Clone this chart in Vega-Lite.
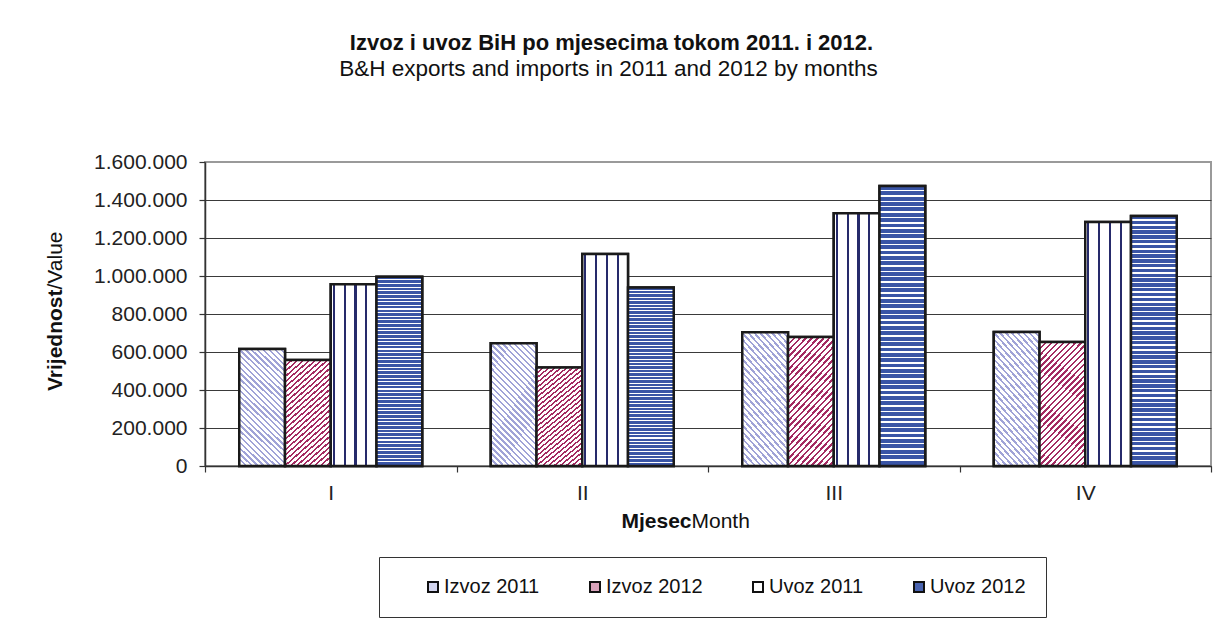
{
  "$schema": "https://vega.github.io/schema/vega-lite/v6.json",
  "width": 1006,
  "height": 304,
  "autosize": {"type": "none"},
  "padding": {"left": 205, "top": 162, "right": 21, "bottom": 169},
  "background": "white",
  "config": {
    "font": "Liberation Sans",
    "locale": {"number": {"decimal": ",", "thousands": ".", "grouping": [3], "currency": ["", ""]}},
    "view": {"stroke": "#9a9a9a", "strokeWidth": 2}
  },
  "data": {
    "values": [
      {"month": "I", "series": "Izvoz 2011", "value": 616000},
      {"month": "I", "series": "Izvoz 2012", "value": 558000},
      {"month": "I", "series": "Uvoz 2011", "value": 956000},
      {"month": "I", "series": "Uvoz 2012", "value": 996000},
      {"month": "II", "series": "Izvoz 2011", "value": 646000},
      {"month": "II", "series": "Izvoz 2012", "value": 519000},
      {"month": "II", "series": "Uvoz 2011", "value": 1116000},
      {"month": "II", "series": "Uvoz 2012", "value": 940000},
      {"month": "III", "series": "Izvoz 2011", "value": 704000},
      {"month": "III", "series": "Izvoz 2012", "value": 679000},
      {"month": "III", "series": "Uvoz 2011", "value": 1330000},
      {"month": "III", "series": "Uvoz 2012", "value": 1474000},
      {"month": "IV", "series": "Izvoz 2011", "value": 705000},
      {"month": "IV", "series": "Izvoz 2012", "value": 653000},
      {"month": "IV", "series": "Uvoz 2011", "value": 1284000},
      {"month": "IV", "series": "Uvoz 2012", "value": 1316000}
    ]
  },
  "layer": [
    {
      "mark": {"type": "bar", "stroke": "#1a1a1a", "strokeWidth": 2.5},
      "encoding": {
        "x": {
          "field": "month", "type": "nominal",
          "scale": {"paddingInner": 0, "paddingOuter": 0},
          "axis": {
            "orient": "bottom", "tickBand": "extent", "labelAngle": 0,
            "labelFontSize": 21, "labelColor": "#222", "labelPadding": 10,
            "domainColor": "#333", "domainWidth": 1.5, "tickColor": "#333", "tickSize": 6, "tickWidth": 1.2,
            "grid": false,
            "title": "Mjesec", "titleFontSize": 21, "titleFontWeight": "bold", "titleColor": "#111",
            "titleX": 486, "titleY": 55, "titleAlign": "right", "titleBaseline": "middle"
          }
        },
        "xOffset": {
          "field": "series", "type": "nominal",
          "scale": {"paddingInner": 0, "paddingOuter": 0.749}
        },
        "y": {
          "field": "value", "type": "quantitative",
          "scale": {"domain": [0, 1600000], "nice": false},
          "axis": {
            "orient": "left", "values": [0, 200000, 400000, 600000, 800000, 1000000, 1200000, 1400000, 1600000],
            "format": ",d", "labelFontSize": 21, "labelColor": "#222", "labelPadding": 12,
            "domainColor": "#333", "domainWidth": 1.5, "tickColor": "#333", "tickSize": 6, "tickWidth": 1.2,
            "grid": true, "gridWidth": 1.2,
            "gridColor": {"condition": {"test": "datum.value == 1600000", "value": "#9a9a9a"}, "value": "#3a3a3a"},
            "title": "Vrijednost", "titleFontSize": 21, "titleFontWeight": "bold", "titleColor": "#111",
            "titleAngle": 270, "titleX": -150, "titleY": 127, "titleAlign": "right", "titleBaseline": "middle"
          }
        },
        "fill": {
          "field": "series", "type": "nominal",
          "scale": {
            "domain": ["Izvoz 2011", "Izvoz 2012", "Uvoz 2011", "Uvoz 2012"],
            "range": ["#d3d5ef", "#d9a3bb", "#ffffff", "#4a64b0"]
          },
          "legend": {
            "orient": "none", "legendX": 174, "legendY": 395, "direction": "horizontal", "columns": 4,
            "title": " ", "titleOrient": "left", "titleFontSize": 2, "titlePadding": 24,
            "padding": 20, "strokeColor": "#333", "fillColor": "#fff",
            "symbolType": "square", "symbolSize": 100, "symbolStrokeColor": "#111", "symbolStrokeWidth": 2,
            "labelFontSize": 20, "labelColor": "#111", "labelOffset": 1, "columnPadding": 45, "labelFont": "Liberation Sans"
          }
        }
      }
    },
    {
      "transform": [{"filter": "datum.series == 'Izvoz 2011'"}],
      "mark": {"type": "bar", "stroke": "#1a1a1a", "strokeWidth": 2.5,
        "fill": {"gradient": "linear", "x1": 0, "y1": 1, "x2": 0.46, "y2": -0.206, "stops": [
          {"offset": 0, "color": "#a0a3d7"}, {"offset": 0.0143, "color": "#a0a3d7"}, {"offset": 0.0143, "color": "#fff"}, {"offset": 0.0357, "color": "#fff"},
          {"offset": 0.0357, "color": "#a0a3d7"}, {"offset": 0.05, "color": "#a0a3d7"}, {"offset": 0.05, "color": "#fff"}, {"offset": 0.0714, "color": "#fff"},
          {"offset": 0.0714, "color": "#a0a3d7"}, {"offset": 0.0857, "color": "#a0a3d7"}, {"offset": 0.0857, "color": "#fff"}, {"offset": 0.1071, "color": "#fff"},
          {"offset": 0.1071, "color": "#a0a3d7"}, {"offset": 0.1214, "color": "#a0a3d7"}, {"offset": 0.1214, "color": "#fff"}, {"offset": 0.1429, "color": "#fff"},
          {"offset": 0.1429, "color": "#a0a3d7"}, {"offset": 0.1571, "color": "#a0a3d7"}, {"offset": 0.1571, "color": "#fff"}, {"offset": 0.1786, "color": "#fff"},
          {"offset": 0.1786, "color": "#a0a3d7"}, {"offset": 0.1929, "color": "#a0a3d7"}, {"offset": 0.1929, "color": "#fff"}, {"offset": 0.2143, "color": "#fff"},
          {"offset": 0.2143, "color": "#a0a3d7"}, {"offset": 0.2286, "color": "#a0a3d7"}, {"offset": 0.2286, "color": "#fff"}, {"offset": 0.25, "color": "#fff"},
          {"offset": 0.25, "color": "#a0a3d7"}, {"offset": 0.2643, "color": "#a0a3d7"}, {"offset": 0.2643, "color": "#fff"}, {"offset": 0.2857, "color": "#fff"},
          {"offset": 0.2857, "color": "#a0a3d7"}, {"offset": 0.3, "color": "#a0a3d7"}, {"offset": 0.3, "color": "#fff"}, {"offset": 0.3214, "color": "#fff"},
          {"offset": 0.3214, "color": "#a0a3d7"}, {"offset": 0.3357, "color": "#a0a3d7"}, {"offset": 0.3357, "color": "#fff"}, {"offset": 0.3571, "color": "#fff"},
          {"offset": 0.3571, "color": "#a0a3d7"}, {"offset": 0.3714, "color": "#a0a3d7"}, {"offset": 0.3714, "color": "#fff"}, {"offset": 0.3929, "color": "#fff"},
          {"offset": 0.3929, "color": "#a0a3d7"}, {"offset": 0.4071, "color": "#a0a3d7"}, {"offset": 0.4071, "color": "#fff"}, {"offset": 0.4286, "color": "#fff"},
          {"offset": 0.4286, "color": "#a0a3d7"}, {"offset": 0.4429, "color": "#a0a3d7"}, {"offset": 0.4429, "color": "#fff"}, {"offset": 0.4643, "color": "#fff"},
          {"offset": 0.4643, "color": "#a0a3d7"}, {"offset": 0.4786, "color": "#a0a3d7"}, {"offset": 0.4786, "color": "#fff"}, {"offset": 0.5, "color": "#fff"},
          {"offset": 0.5, "color": "#a0a3d7"}, {"offset": 0.5143, "color": "#a0a3d7"}, {"offset": 0.5143, "color": "#fff"}, {"offset": 0.5357, "color": "#fff"},
          {"offset": 0.5357, "color": "#a0a3d7"}, {"offset": 0.55, "color": "#a0a3d7"}, {"offset": 0.55, "color": "#fff"}, {"offset": 0.5714, "color": "#fff"},
          {"offset": 0.5714, "color": "#a0a3d7"}, {"offset": 0.5857, "color": "#a0a3d7"}, {"offset": 0.5857, "color": "#fff"}, {"offset": 0.6071, "color": "#fff"},
          {"offset": 0.6071, "color": "#a0a3d7"}, {"offset": 0.6214, "color": "#a0a3d7"}, {"offset": 0.6214, "color": "#fff"}, {"offset": 0.6429, "color": "#fff"},
          {"offset": 0.6429, "color": "#a0a3d7"}, {"offset": 0.6571, "color": "#a0a3d7"}, {"offset": 0.6571, "color": "#fff"}, {"offset": 0.6786, "color": "#fff"},
          {"offset": 0.6786, "color": "#a0a3d7"}, {"offset": 0.6929, "color": "#a0a3d7"}, {"offset": 0.6929, "color": "#fff"}, {"offset": 0.7143, "color": "#fff"},
          {"offset": 0.7143, "color": "#a0a3d7"}, {"offset": 0.7286, "color": "#a0a3d7"}, {"offset": 0.7286, "color": "#fff"}, {"offset": 0.75, "color": "#fff"},
          {"offset": 0.75, "color": "#a0a3d7"}, {"offset": 0.7643, "color": "#a0a3d7"}, {"offset": 0.7643, "color": "#fff"}, {"offset": 0.7857, "color": "#fff"},
          {"offset": 0.7857, "color": "#a0a3d7"}, {"offset": 0.8, "color": "#a0a3d7"}, {"offset": 0.8, "color": "#fff"}, {"offset": 0.8214, "color": "#fff"},
          {"offset": 0.8214, "color": "#a0a3d7"}, {"offset": 0.8357, "color": "#a0a3d7"}, {"offset": 0.8357, "color": "#fff"}, {"offset": 0.8571, "color": "#fff"},
          {"offset": 0.8571, "color": "#a0a3d7"}, {"offset": 0.8714, "color": "#a0a3d7"}, {"offset": 0.8714, "color": "#fff"}, {"offset": 0.8929, "color": "#fff"},
          {"offset": 0.8929, "color": "#a0a3d7"}, {"offset": 0.9071, "color": "#a0a3d7"}, {"offset": 0.9071, "color": "#fff"}, {"offset": 0.9286, "color": "#fff"},
          {"offset": 0.9286, "color": "#a0a3d7"}, {"offset": 0.9429, "color": "#a0a3d7"}, {"offset": 0.9429, "color": "#fff"}, {"offset": 0.9643, "color": "#fff"},
          {"offset": 0.9643, "color": "#a0a3d7"}, {"offset": 0.9786, "color": "#a0a3d7"}, {"offset": 0.9786, "color": "#fff"}, {"offset": 1, "color": "#fff"}
        ]}},
      "encoding": {
        "x": {"field": "month", "type": "nominal", "axis": null},
        "xOffset": {"field": "series", "type": "nominal"},
        "y": {"field": "value", "type": "quantitative", "axis": null}
      }
    },
    {
      "transform": [{"filter": "datum.series == 'Izvoz 2012'"}],
      "mark": {"type": "bar", "stroke": "#1a1a1a", "strokeWidth": 2.5,
        "fill": {"gradient": "linear", "x1": 0, "y1": 0, "x2": 0.46, "y2": 1.206, "stops": [
          {"offset": 0, "color": "#a42b62"}, {"offset": 0.0143, "color": "#a42b62"}, {"offset": 0.0143, "color": "#fff"}, {"offset": 0.0357, "color": "#fff"},
          {"offset": 0.0357, "color": "#a42b62"}, {"offset": 0.05, "color": "#a42b62"}, {"offset": 0.05, "color": "#fff"}, {"offset": 0.0714, "color": "#fff"},
          {"offset": 0.0714, "color": "#a42b62"}, {"offset": 0.0857, "color": "#a42b62"}, {"offset": 0.0857, "color": "#fff"}, {"offset": 0.1071, "color": "#fff"},
          {"offset": 0.1071, "color": "#a42b62"}, {"offset": 0.1214, "color": "#a42b62"}, {"offset": 0.1214, "color": "#fff"}, {"offset": 0.1429, "color": "#fff"},
          {"offset": 0.1429, "color": "#a42b62"}, {"offset": 0.1571, "color": "#a42b62"}, {"offset": 0.1571, "color": "#fff"}, {"offset": 0.1786, "color": "#fff"},
          {"offset": 0.1786, "color": "#a42b62"}, {"offset": 0.1929, "color": "#a42b62"}, {"offset": 0.1929, "color": "#fff"}, {"offset": 0.2143, "color": "#fff"},
          {"offset": 0.2143, "color": "#a42b62"}, {"offset": 0.2286, "color": "#a42b62"}, {"offset": 0.2286, "color": "#fff"}, {"offset": 0.25, "color": "#fff"},
          {"offset": 0.25, "color": "#a42b62"}, {"offset": 0.2643, "color": "#a42b62"}, {"offset": 0.2643, "color": "#fff"}, {"offset": 0.2857, "color": "#fff"},
          {"offset": 0.2857, "color": "#a42b62"}, {"offset": 0.3, "color": "#a42b62"}, {"offset": 0.3, "color": "#fff"}, {"offset": 0.3214, "color": "#fff"},
          {"offset": 0.3214, "color": "#a42b62"}, {"offset": 0.3357, "color": "#a42b62"}, {"offset": 0.3357, "color": "#fff"}, {"offset": 0.3571, "color": "#fff"},
          {"offset": 0.3571, "color": "#a42b62"}, {"offset": 0.3714, "color": "#a42b62"}, {"offset": 0.3714, "color": "#fff"}, {"offset": 0.3929, "color": "#fff"},
          {"offset": 0.3929, "color": "#a42b62"}, {"offset": 0.4071, "color": "#a42b62"}, {"offset": 0.4071, "color": "#fff"}, {"offset": 0.4286, "color": "#fff"},
          {"offset": 0.4286, "color": "#a42b62"}, {"offset": 0.4429, "color": "#a42b62"}, {"offset": 0.4429, "color": "#fff"}, {"offset": 0.4643, "color": "#fff"},
          {"offset": 0.4643, "color": "#a42b62"}, {"offset": 0.4786, "color": "#a42b62"}, {"offset": 0.4786, "color": "#fff"}, {"offset": 0.5, "color": "#fff"},
          {"offset": 0.5, "color": "#a42b62"}, {"offset": 0.5143, "color": "#a42b62"}, {"offset": 0.5143, "color": "#fff"}, {"offset": 0.5357, "color": "#fff"},
          {"offset": 0.5357, "color": "#a42b62"}, {"offset": 0.55, "color": "#a42b62"}, {"offset": 0.55, "color": "#fff"}, {"offset": 0.5714, "color": "#fff"},
          {"offset": 0.5714, "color": "#a42b62"}, {"offset": 0.5857, "color": "#a42b62"}, {"offset": 0.5857, "color": "#fff"}, {"offset": 0.6071, "color": "#fff"},
          {"offset": 0.6071, "color": "#a42b62"}, {"offset": 0.6214, "color": "#a42b62"}, {"offset": 0.6214, "color": "#fff"}, {"offset": 0.6429, "color": "#fff"},
          {"offset": 0.6429, "color": "#a42b62"}, {"offset": 0.6571, "color": "#a42b62"}, {"offset": 0.6571, "color": "#fff"}, {"offset": 0.6786, "color": "#fff"},
          {"offset": 0.6786, "color": "#a42b62"}, {"offset": 0.6929, "color": "#a42b62"}, {"offset": 0.6929, "color": "#fff"}, {"offset": 0.7143, "color": "#fff"},
          {"offset": 0.7143, "color": "#a42b62"}, {"offset": 0.7286, "color": "#a42b62"}, {"offset": 0.7286, "color": "#fff"}, {"offset": 0.75, "color": "#fff"},
          {"offset": 0.75, "color": "#a42b62"}, {"offset": 0.7643, "color": "#a42b62"}, {"offset": 0.7643, "color": "#fff"}, {"offset": 0.7857, "color": "#fff"},
          {"offset": 0.7857, "color": "#a42b62"}, {"offset": 0.8, "color": "#a42b62"}, {"offset": 0.8, "color": "#fff"}, {"offset": 0.8214, "color": "#fff"},
          {"offset": 0.8214, "color": "#a42b62"}, {"offset": 0.8357, "color": "#a42b62"}, {"offset": 0.8357, "color": "#fff"}, {"offset": 0.8571, "color": "#fff"},
          {"offset": 0.8571, "color": "#a42b62"}, {"offset": 0.8714, "color": "#a42b62"}, {"offset": 0.8714, "color": "#fff"}, {"offset": 0.8929, "color": "#fff"},
          {"offset": 0.8929, "color": "#a42b62"}, {"offset": 0.9071, "color": "#a42b62"}, {"offset": 0.9071, "color": "#fff"}, {"offset": 0.9286, "color": "#fff"},
          {"offset": 0.9286, "color": "#a42b62"}, {"offset": 0.9429, "color": "#a42b62"}, {"offset": 0.9429, "color": "#fff"}, {"offset": 0.9643, "color": "#fff"},
          {"offset": 0.9643, "color": "#a42b62"}, {"offset": 0.9786, "color": "#a42b62"}, {"offset": 0.9786, "color": "#fff"}, {"offset": 1, "color": "#fff"}
        ]}},
      "encoding": {
        "x": {"field": "month", "type": "nominal", "axis": null},
        "xOffset": {"field": "series", "type": "nominal"},
        "y": {"field": "value", "type": "quantitative", "axis": null}
      }
    },
    {
      "transform": [{"filter": "datum.series == 'Uvoz 2011'"}],
      "mark": {"type": "bar", "stroke": "#1a1a1a", "strokeWidth": 2.5,
        "fill": {"gradient": "linear", "x1": 0, "y1": 0, "x2": 1, "y2": 0, "stops": [
          {"offset": 0, "color": "#fff"}, {"offset": 0.04, "color": "#fff"}, {"offset": 0.04, "color": "#262a6b"}, {"offset": 0.09, "color": "#262a6b"},
          {"offset": 0.09, "color": "#fff"}, {"offset": 0.28, "color": "#fff"}, {"offset": 0.28, "color": "#262a6b"}, {"offset": 0.33, "color": "#262a6b"},
          {"offset": 0.33, "color": "#fff"}, {"offset": 0.515, "color": "#fff"}, {"offset": 0.515, "color": "#262a6b"}, {"offset": 0.565, "color": "#262a6b"},
          {"offset": 0.565, "color": "#fff"}, {"offset": 0.75, "color": "#fff"}, {"offset": 0.75, "color": "#262a6b"}, {"offset": 0.8, "color": "#262a6b"},
          {"offset": 0.8, "color": "#fff"}, {"offset": 1, "color": "#fff"}
        ]}},
      "encoding": {
        "x": {"field": "month", "type": "nominal", "axis": null},
        "xOffset": {"field": "series", "type": "nominal"},
        "y": {"field": "value", "type": "quantitative", "axis": null}
      }
    },
    {
      "transform": [{"filter": "datum.series == 'Uvoz 2012'"}],
      "mark": {"type": "bar", "stroke": "#1a1a1a", "strokeWidth": 2.5,
        "fill": {"gradient": "linear", "x1": 0, "y1": 0, "x2": 0, "y2": 1, "stops": [
          {"offset": 0, "color": "#3a55a6"}, {"offset": 0.0135, "color": "#3a55a6"}, {"offset": 0.0135, "color": "#fff"}, {"offset": 0.0192, "color": "#fff"},
          {"offset": 0.0192, "color": "#3a55a6"}, {"offset": 0.0327, "color": "#3a55a6"}, {"offset": 0.0327, "color": "#fff"}, {"offset": 0.0385, "color": "#fff"},
          {"offset": 0.0385, "color": "#3a55a6"}, {"offset": 0.052, "color": "#3a55a6"}, {"offset": 0.052, "color": "#fff"}, {"offset": 0.0577, "color": "#fff"},
          {"offset": 0.0577, "color": "#3a55a6"}, {"offset": 0.0712, "color": "#3a55a6"}, {"offset": 0.0712, "color": "#fff"}, {"offset": 0.0769, "color": "#fff"},
          {"offset": 0.0769, "color": "#3a55a6"}, {"offset": 0.0904, "color": "#3a55a6"}, {"offset": 0.0904, "color": "#fff"}, {"offset": 0.0962, "color": "#fff"},
          {"offset": 0.0962, "color": "#3a55a6"}, {"offset": 0.1097, "color": "#3a55a6"}, {"offset": 0.1097, "color": "#fff"}, {"offset": 0.1154, "color": "#fff"},
          {"offset": 0.1154, "color": "#3a55a6"}, {"offset": 0.1289, "color": "#3a55a6"}, {"offset": 0.1289, "color": "#fff"}, {"offset": 0.1346, "color": "#fff"},
          {"offset": 0.1346, "color": "#3a55a6"}, {"offset": 0.1481, "color": "#3a55a6"}, {"offset": 0.1481, "color": "#fff"}, {"offset": 0.1538, "color": "#fff"},
          {"offset": 0.1538, "color": "#3a55a6"}, {"offset": 0.1673, "color": "#3a55a6"}, {"offset": 0.1673, "color": "#fff"}, {"offset": 0.1731, "color": "#fff"},
          {"offset": 0.1731, "color": "#3a55a6"}, {"offset": 0.1866, "color": "#3a55a6"}, {"offset": 0.1866, "color": "#fff"}, {"offset": 0.1923, "color": "#fff"},
          {"offset": 0.1923, "color": "#3a55a6"}, {"offset": 0.2058, "color": "#3a55a6"}, {"offset": 0.2058, "color": "#fff"}, {"offset": 0.2115, "color": "#fff"},
          {"offset": 0.2115, "color": "#3a55a6"}, {"offset": 0.225, "color": "#3a55a6"}, {"offset": 0.225, "color": "#fff"}, {"offset": 0.2308, "color": "#fff"},
          {"offset": 0.2308, "color": "#3a55a6"}, {"offset": 0.2443, "color": "#3a55a6"}, {"offset": 0.2443, "color": "#fff"}, {"offset": 0.25, "color": "#fff"},
          {"offset": 0.25, "color": "#3a55a6"}, {"offset": 0.2635, "color": "#3a55a6"}, {"offset": 0.2635, "color": "#fff"}, {"offset": 0.2692, "color": "#fff"},
          {"offset": 0.2692, "color": "#3a55a6"}, {"offset": 0.2827, "color": "#3a55a6"}, {"offset": 0.2827, "color": "#fff"}, {"offset": 0.2885, "color": "#fff"},
          {"offset": 0.2885, "color": "#3a55a6"}, {"offset": 0.302, "color": "#3a55a6"}, {"offset": 0.302, "color": "#fff"}, {"offset": 0.3077, "color": "#fff"},
          {"offset": 0.3077, "color": "#3a55a6"}, {"offset": 0.3212, "color": "#3a55a6"}, {"offset": 0.3212, "color": "#fff"}, {"offset": 0.3269, "color": "#fff"},
          {"offset": 0.3269, "color": "#3a55a6"}, {"offset": 0.3404, "color": "#3a55a6"}, {"offset": 0.3404, "color": "#fff"}, {"offset": 0.3462, "color": "#fff"},
          {"offset": 0.3462, "color": "#3a55a6"}, {"offset": 0.3597, "color": "#3a55a6"}, {"offset": 0.3597, "color": "#fff"}, {"offset": 0.3654, "color": "#fff"},
          {"offset": 0.3654, "color": "#3a55a6"}, {"offset": 0.3789, "color": "#3a55a6"}, {"offset": 0.3789, "color": "#fff"}, {"offset": 0.3846, "color": "#fff"},
          {"offset": 0.3846, "color": "#3a55a6"}, {"offset": 0.3981, "color": "#3a55a6"}, {"offset": 0.3981, "color": "#fff"}, {"offset": 0.4038, "color": "#fff"},
          {"offset": 0.4038, "color": "#3a55a6"}, {"offset": 0.4173, "color": "#3a55a6"}, {"offset": 0.4173, "color": "#fff"}, {"offset": 0.4231, "color": "#fff"},
          {"offset": 0.4231, "color": "#3a55a6"}, {"offset": 0.4366, "color": "#3a55a6"}, {"offset": 0.4366, "color": "#fff"}, {"offset": 0.4423, "color": "#fff"},
          {"offset": 0.4423, "color": "#3a55a6"}, {"offset": 0.4558, "color": "#3a55a6"}, {"offset": 0.4558, "color": "#fff"}, {"offset": 0.4615, "color": "#fff"},
          {"offset": 0.4615, "color": "#3a55a6"}, {"offset": 0.475, "color": "#3a55a6"}, {"offset": 0.475, "color": "#fff"}, {"offset": 0.4808, "color": "#fff"},
          {"offset": 0.4808, "color": "#3a55a6"}, {"offset": 0.4943, "color": "#3a55a6"}, {"offset": 0.4943, "color": "#fff"}, {"offset": 0.5, "color": "#fff"},
          {"offset": 0.5, "color": "#3a55a6"}, {"offset": 0.5135, "color": "#3a55a6"}, {"offset": 0.5135, "color": "#fff"}, {"offset": 0.5192, "color": "#fff"},
          {"offset": 0.5192, "color": "#3a55a6"}, {"offset": 0.5327, "color": "#3a55a6"}, {"offset": 0.5327, "color": "#fff"}, {"offset": 0.5385, "color": "#fff"},
          {"offset": 0.5385, "color": "#3a55a6"}, {"offset": 0.552, "color": "#3a55a6"}, {"offset": 0.552, "color": "#fff"}, {"offset": 0.5577, "color": "#fff"},
          {"offset": 0.5577, "color": "#3a55a6"}, {"offset": 0.5712, "color": "#3a55a6"}, {"offset": 0.5712, "color": "#fff"}, {"offset": 0.5769, "color": "#fff"},
          {"offset": 0.5769, "color": "#3a55a6"}, {"offset": 0.5904, "color": "#3a55a6"}, {"offset": 0.5904, "color": "#fff"}, {"offset": 0.5962, "color": "#fff"},
          {"offset": 0.5962, "color": "#3a55a6"}, {"offset": 0.6097, "color": "#3a55a6"}, {"offset": 0.6097, "color": "#fff"}, {"offset": 0.6154, "color": "#fff"},
          {"offset": 0.6154, "color": "#3a55a6"}, {"offset": 0.6289, "color": "#3a55a6"}, {"offset": 0.6289, "color": "#fff"}, {"offset": 0.6346, "color": "#fff"},
          {"offset": 0.6346, "color": "#3a55a6"}, {"offset": 0.6481, "color": "#3a55a6"}, {"offset": 0.6481, "color": "#fff"}, {"offset": 0.6538, "color": "#fff"},
          {"offset": 0.6538, "color": "#3a55a6"}, {"offset": 0.6673, "color": "#3a55a6"}, {"offset": 0.6673, "color": "#fff"}, {"offset": 0.6731, "color": "#fff"},
          {"offset": 0.6731, "color": "#3a55a6"}, {"offset": 0.6866, "color": "#3a55a6"}, {"offset": 0.6866, "color": "#fff"}, {"offset": 0.6923, "color": "#fff"},
          {"offset": 0.6923, "color": "#3a55a6"}, {"offset": 0.7058, "color": "#3a55a6"}, {"offset": 0.7058, "color": "#fff"}, {"offset": 0.7115, "color": "#fff"},
          {"offset": 0.7115, "color": "#3a55a6"}, {"offset": 0.725, "color": "#3a55a6"}, {"offset": 0.725, "color": "#fff"}, {"offset": 0.7308, "color": "#fff"},
          {"offset": 0.7308, "color": "#3a55a6"}, {"offset": 0.7443, "color": "#3a55a6"}, {"offset": 0.7443, "color": "#fff"}, {"offset": 0.75, "color": "#fff"},
          {"offset": 0.75, "color": "#3a55a6"}, {"offset": 0.7635, "color": "#3a55a6"}, {"offset": 0.7635, "color": "#fff"}, {"offset": 0.7692, "color": "#fff"},
          {"offset": 0.7692, "color": "#3a55a6"}, {"offset": 0.7827, "color": "#3a55a6"}, {"offset": 0.7827, "color": "#fff"}, {"offset": 0.7885, "color": "#fff"},
          {"offset": 0.7885, "color": "#3a55a6"}, {"offset": 0.802, "color": "#3a55a6"}, {"offset": 0.802, "color": "#fff"}, {"offset": 0.8077, "color": "#fff"},
          {"offset": 0.8077, "color": "#3a55a6"}, {"offset": 0.8212, "color": "#3a55a6"}, {"offset": 0.8212, "color": "#fff"}, {"offset": 0.8269, "color": "#fff"},
          {"offset": 0.8269, "color": "#3a55a6"}, {"offset": 0.8404, "color": "#3a55a6"}, {"offset": 0.8404, "color": "#fff"}, {"offset": 0.8462, "color": "#fff"},
          {"offset": 0.8462, "color": "#3a55a6"}, {"offset": 0.8597, "color": "#3a55a6"}, {"offset": 0.8597, "color": "#fff"}, {"offset": 0.8654, "color": "#fff"},
          {"offset": 0.8654, "color": "#3a55a6"}, {"offset": 0.8789, "color": "#3a55a6"}, {"offset": 0.8789, "color": "#fff"}, {"offset": 0.8846, "color": "#fff"},
          {"offset": 0.8846, "color": "#3a55a6"}, {"offset": 0.8981, "color": "#3a55a6"}, {"offset": 0.8981, "color": "#fff"}, {"offset": 0.9038, "color": "#fff"},
          {"offset": 0.9038, "color": "#3a55a6"}, {"offset": 0.9173, "color": "#3a55a6"}, {"offset": 0.9173, "color": "#fff"}, {"offset": 0.9231, "color": "#fff"},
          {"offset": 0.9231, "color": "#3a55a6"}, {"offset": 0.9366, "color": "#3a55a6"}, {"offset": 0.9366, "color": "#fff"}, {"offset": 0.9423, "color": "#fff"},
          {"offset": 0.9423, "color": "#3a55a6"}, {"offset": 0.9558, "color": "#3a55a6"}, {"offset": 0.9558, "color": "#fff"}, {"offset": 0.9615, "color": "#fff"},
          {"offset": 0.9615, "color": "#3a55a6"}, {"offset": 0.975, "color": "#3a55a6"}, {"offset": 0.975, "color": "#fff"}, {"offset": 0.9808, "color": "#fff"},
          {"offset": 0.9808, "color": "#3a55a6"}, {"offset": 1, "color": "#3a55a6"}
        ]}},
      "encoding": {
        "x": {"field": "month", "type": "nominal", "axis": null},
        "xOffset": {"field": "series", "type": "nominal"},
        "y": {"field": "value", "type": "quantitative", "axis": null}
      }
    },
    {
      "mark": {"type": "bar", "opacity": 0},
      "encoding": {
        "x": {
          "field": "month", "type": "nominal",
          "axis": {
            "orient": "top", "labels": false, "ticks": false, "domain": false, "grid": false,
            "title": "Month", "titleFontSize": 21, "titleFontWeight": "normal", "titleColor": "#111",
            "titleX": 486, "titleY": 359, "titleAlign": "left", "titleBaseline": "middle", "titleAngle": 0
          }
        },
        "y": {
          "field": "value", "type": "quantitative",
          "axis": {
            "orient": "right", "labels": false, "ticks": false, "domain": false, "grid": false,
            "title": "/Value", "titleFontSize": 21, "titleFontWeight": "normal", "titleColor": "#111",
            "titleAngle": 270, "titleX": -1156, "titleY": 127, "titleAlign": "left", "titleBaseline": "middle"
          }
        }
      }
    },
    {
      "mark": {"type": "bar", "opacity": 0},
      "encoding": {
        "x": {
          "field": "month", "type": "nominal",
          "axis": {
            "orient": "top", "labels": false, "ticks": false, "domain": false, "grid": false,
            "title": "Izvoz i uvoz BiH po mjesecima tokom 2011. i 2012.", "titleFontSize": 22, "titleFontWeight": "bold", "titleColor": "#111",
            "titleX": 406, "titleY": -120, "titleAlign": "center", "titleBaseline": "middle", "titleAngle": 0
          }
        },
        "y": {
          "field": "value", "type": "quantitative",
          "axis": {
            "orient": "right", "labels": false, "ticks": false, "domain": false, "grid": false,
            "title": "B&H exports and imports in 2011 and 2012 by months", "titleFontSize": 22.5, "titleFontWeight": "normal", "titleColor": "#111",
            "titleAngle": 0, "titleX": -603, "titleY": -94, "titleAlign": "center", "titleBaseline": "middle"
          }
        }
      }
    }
  ],
  "resolve": {"axis": {"x": "independent", "y": "independent"}}
}
